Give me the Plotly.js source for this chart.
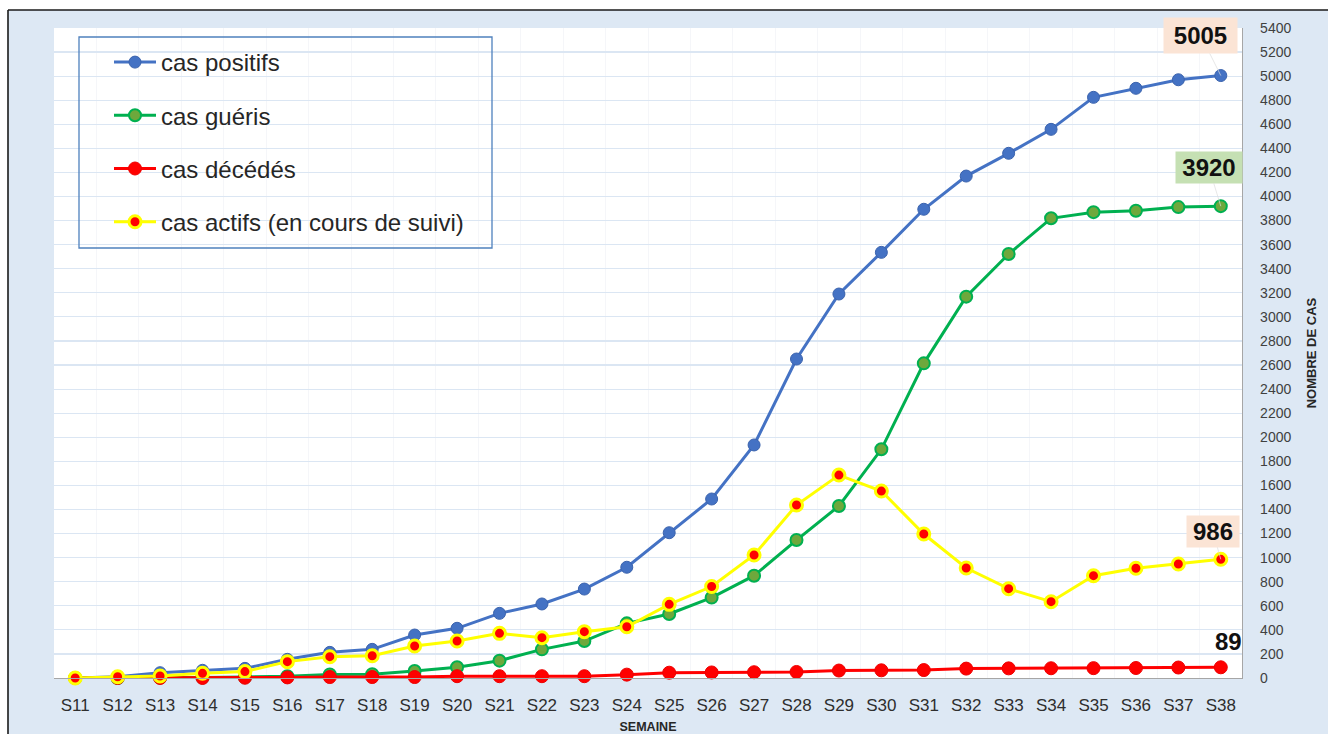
<!DOCTYPE html>
<html>
<head>
<meta charset="utf-8">
<script src="https://cdn.plot.ly/plotly-3.0.1.min.js"></script>
<style>
  html, body { margin: 0; padding: 0; background: #ffffff; }
  #chart { width: 1328px; height: 734px; }
</style>
</head>
<body>
<div id="chart"></div>
<script>
// ---- Data ----
const semaines = ["S11","S12","S13","S14","S15","S16","S17","S18","S19","S20","S21","S22","S23","S24",
                  "S25","S26","S27","S28","S29","S30","S31","S32","S33","S34","S35","S36","S37","S38"];
const casPositifs = [0, 10, 44, 64, 80, 155, 213, 238, 357, 413, 537, 615, 739, 920,
                     1207, 1487, 1936, 2650, 3190, 3536, 3894, 4170, 4359, 4558, 4824, 4899, 4970, 5005];
const casGueris   = [0, 0, 3, 5, 8, 15, 30, 32, 58, 89, 144, 238, 307, 454,
                     532, 668, 850, 1146, 1429, 1900, 2614, 3168, 3522, 3819, 3870, 3882, 3912, 3920];
const casDecedes  = [0, 0, 0, 0, 2, 5, 8, 8, 8, 15, 15, 15, 15, 28,
                     44, 46, 48, 50, 62, 64, 66, 78, 80, 81, 82, 83, 87, 89];
const casActifs   = [0, 10, 17, 39, 53, 136, 177, 185, 266, 307, 371, 335, 385, 426,
                     612, 760, 1022, 1437, 1686, 1553, 1196, 914, 742, 634, 850, 912, 947, 986];
const seriesNames = ["cas positifs", "cas guéris", "cas décédés", "cas actifs (en cours de suivi)"];
const yMax = 5400;
const yStep = 200;

// ---- Layout helpers (pixel -> paper) ----
const W = 1328, H = 734;
const M = { l: 54, r: 86, t: 28, b: 56 };
const plotW = W - M.l - M.r, plotH = H - M.t - M.b;
const px = x => (x - M.l) / plotW;
const py = y => (H - M.b - y) / plotH;

const FONT = "Liberation Sans, Arial, sans-serif";
const NARROW = "Liberation Sans Narrow, Liberation Sans, Arial, sans-serif";

const traces = [
  {
    x: semaines, y: casPositifs, name: seriesNames[0], legendgroup: "a",
    mode: "lines+markers", cliponaxis: false,
    line: { color: "#4472c4", width: 3 },
    marker: { size: 12, color: "#4472c4", line: { color: "#3b63ad", width: 1 } }
  },
  {
    x: semaines, y: casGueris, name: seriesNames[1], legendgroup: "b",
    mode: "lines+markers", cliponaxis: false,
    line: { color: "#00b050", width: 3 },
    marker: { size: 12, color: "#6ea83c", line: { color: "#00b050", width: 2 } }
  },
  {
    x: semaines, y: casDecedes, name: seriesNames[2], legendgroup: "c",
    mode: "lines+markers", cliponaxis: false,
    line: { color: "#ff0000", width: 3 },
    marker: { size: 13, color: "#ff0000", line: { color: "#ee0000", width: 1 } }
  },
  {
    x: semaines, y: casActifs, name: seriesNames[3], legendgroup: "d",
    mode: "lines+markers", cliponaxis: false,
    line: { color: "#ffff00", width: 3 },
    marker: { size: 12, color: "#ff0000", line: { color: "#ffff00", width: 3 } }
  }
];

const last = semaines.length - 1;
const labelFont = { family: FONT, size: 24, color: "#111111", weight: "bold" };

const layout = {
  width: W, height: H,
  margin: M,
  paper_bgcolor: "#dde8f4",
  plot_bgcolor: "#ffffff",
  showlegend: true,
  legend: {
    x: px(109), y: py(40), xanchor: "left", yanchor: "top",
    bgcolor: "rgba(0,0,0,0)", borderwidth: 0,
    font: { family: FONT, size: 24, color: "#262626" },
    tracegroupgap: 19, itemwidth: 42
  },
  xaxis: {
    type: "category", range: [-0.5, semaines.length - 0.5],
    tickson: "boundaries", showgrid: true, gridcolor: "#f5f6f9", gridwidth: 1,
    showline: true, linecolor: "#a6a6a6", linewidth: 1.3,
    ticks: "", ticklabelstandoff: 11,
    tickfont: { family: FONT, size: 17, color: "#2e2e2e" },
    zeroline: false, automargin: false, fixedrange: true,
    title: { text: "SEMAINE", standoff: 9, font: { family: NARROW, size: 12.5, color: "#262626", weight: "bold" } }
  },
  yaxis: {
    side: "right", range: [0, yMax], tick0: 0, dtick: yStep,
    showgrid: true, gridcolor: "#dbe6f3", gridwidth: 1.2,
    showline: true, linecolor: "#a6a6a6", linewidth: 1.3,
    ticks: "", ticklabelstandoff: 14,
    tickfont: { family: FONT, size: 14, color: "#404040" },
    zeroline: false, automargin: false, fixedrange: true,
    title: { text: "NOMBRE DE CAS", standoff: 16, font: { family: NARROW, size: 13, color: "#262626", weight: "bold" } }
  },
  shapes: [
    // white outside the frame
    { type: "rect", xref: "paper", yref: "paper", x0: px(-10), x1: px(8), y0: py(H + 10), y1: py(-10),
      fillcolor: "#ffffff", line: { width: 0 }, layer: "above" },
    { type: "rect", xref: "paper", yref: "paper", x0: px(-10), x1: px(W + 10), y0: py(10), y1: py(-10),
      fillcolor: "#ffffff", line: { width: 0 }, layer: "above" },
    // black frame
    { type: "line", xref: "paper", yref: "paper", x0: px(8), x1: px(8), y0: py(10), y1: py(H + 10),
      line: { color: "#1a1a1a", width: 1.6 }, layer: "above" },
    { type: "line", xref: "paper", yref: "paper", x0: px(8), x1: px(W + 10), y0: py(10), y1: py(10),
      line: { color: "#1a1a1a", width: 1.6 }, layer: "above" },
    // legend box
    { type: "rect", xref: "paper", yref: "paper", x0: px(79), x1: px(492), y0: py(248), y1: py(37),
      line: { color: "#4f81bd", width: 1.3 }, fillcolor: "rgba(0,0,0,0)", layer: "above" }
  ],
  annotations: [
    { xref: "x", yref: "y", x: semaines[last], y: casPositifs[last], text: String(casPositifs[last]),
      showarrow: true, ax: -20, ay: -40, arrowhead: 0, arrowwidth: 0.7, arrowcolor: "#dcdcdc",
      bgcolor: "#fbe4d5", width: 71, height: 33, borderpad: 1, font: labelFont },
    { xref: "x", yref: "y", x: semaines[last], y: casGueris[last], text: String(casGueris[last]),
      showarrow: true, ax: -12, ay: -39, arrowhead: 0, arrowwidth: 0.7, arrowcolor: "#dcdcdc",
      bgcolor: "#c5e0b3", width: 64, height: 29, borderpad: 1, font: labelFont },
    { xref: "x", yref: "y", x: semaines[last], y: casActifs[last], text: String(casActifs[last]),
      showarrow: true, ax: -8, ay: -28, arrowhead: 0, arrowwidth: 0.7, arrowcolor: "#dcdcdc",
      bgcolor: "#fbe4d5", width: 50, height: 29, borderpad: 1, font: labelFont },
    { xref: "x", yref: "y", x: semaines[last], y: casDecedes[last], text: String(casDecedes[last]),
      showarrow: false, xshift: 8, yshift: 26, font: labelFont }
  ]
};

Plotly.newPlot("chart", traces, layout, { displayModeBar: false, staticPlot: true });
</script>
</body>
</html>
